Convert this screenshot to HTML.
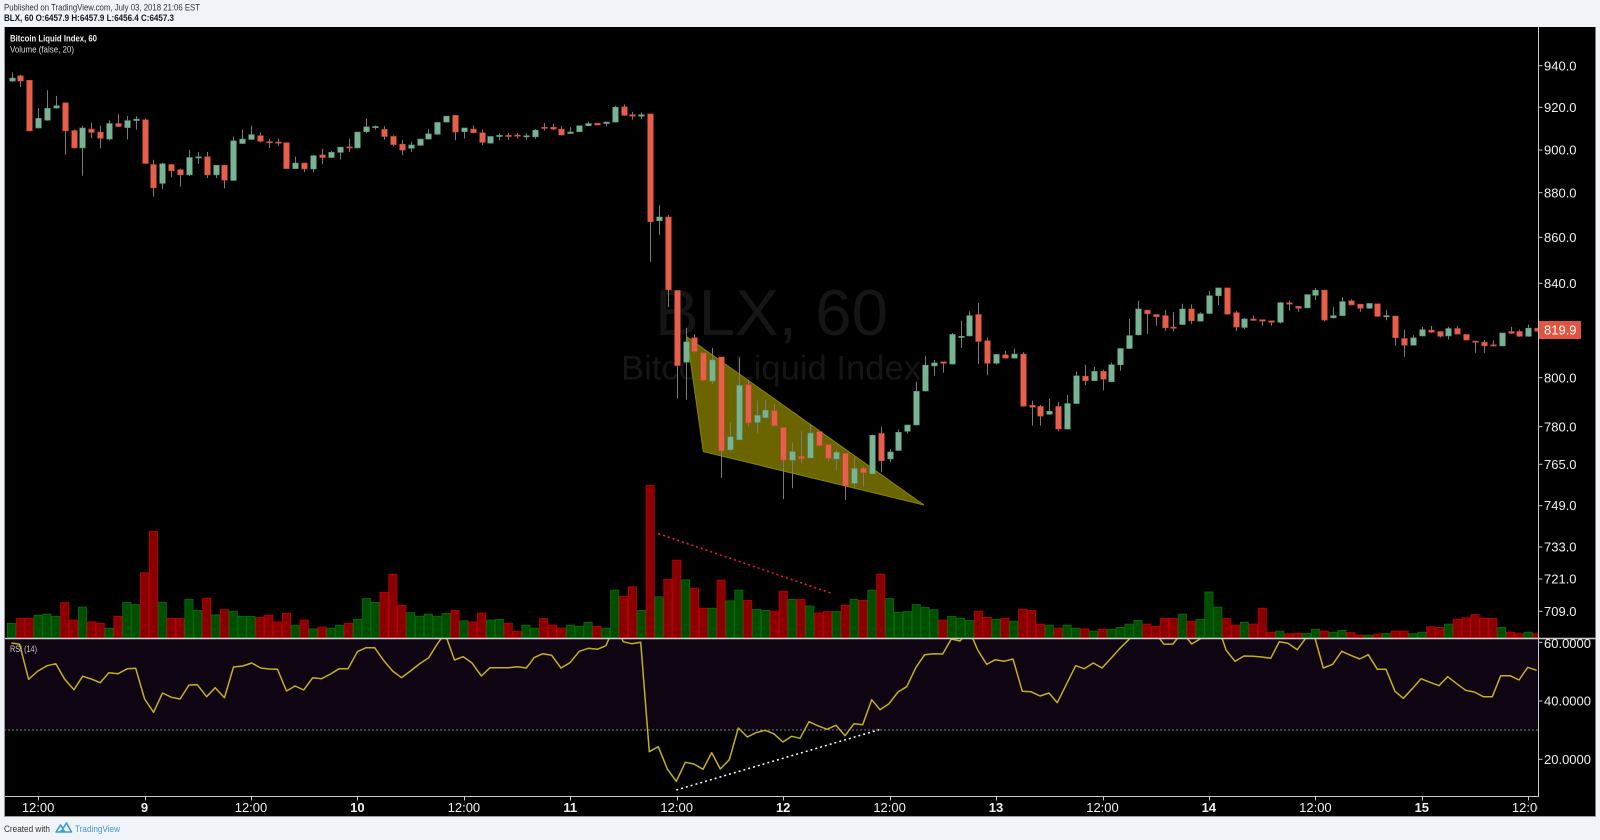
<!DOCTYPE html>
<html><head><meta charset="utf-8">
<style>html,body{margin:0;padding:0;background:#f0f3f7;}svg{display:block}</style>
</head><body>
<svg id="s" xmlns="http://www.w3.org/2000/svg" width="1600" height="840" viewBox="0 0 1600 840" font-family="Liberation Sans, Arial, sans-serif">
<defs>
<clipPath id="cp"><rect x="4" y="27" width="1534.5" height="611"/></clipPath>
<clipPath id="cr"><rect x="4" y="639" width="1534.5" height="157"/></clipPath>
<clipPath id="ct"><rect x="4" y="797" width="1534" height="20"/></clipPath>
</defs>
<rect width="1600" height="840" fill="#f0f3f7"/>
<text x="4" y="10.5" font-size="9" fill="#333" textLength="196" lengthAdjust="spacingAndGlyphs">Published on TradingView.com, July 03, 2018 21:06 EST</text>
<text x="4" y="21" font-size="9" font-weight="bold" fill="#131722" textLength="170" lengthAdjust="spacingAndGlyphs">BLX, 60 O:6457.9 H:6457.9 L:6456.4 C:6457.3</text>
<rect x="4" y="27" width="1591.5" height="789.5" fill="#000"/>
<g clip-path="url(#cp)">
  <text x="655" y="335" font-size="65" fill="#151515" textLength="233" lengthAdjust="spacingAndGlyphs">BLX, 60</text>
  <text x="621" y="379.5" font-size="34" fill="#151515" textLength="300" lengthAdjust="spacingAndGlyphs">Bitcoin Liquid Index</text>
  <g id="vol"></g>
  <polygon points="687,337 703.3,451.6 924,505" fill="#6a6500" stroke="#8a8400" stroke-width="1"/>
  <g id="cdl"></g>
  <line x1="658.3" y1="533.6" x2="833" y2="593.8" stroke="#ff1e1e" stroke-width="1.5" stroke-dasharray="2,3"/>
</g>
<text x="10" y="41.3" font-size="9" font-weight="bold" fill="#eeeeee" textLength="87" lengthAdjust="spacingAndGlyphs">Bitcoin Liquid Index, 60</text>
<text x="10" y="52.7" font-size="9" fill="#dddddd" textLength="64" lengthAdjust="spacingAndGlyphs">Volume (false, 20)</text>
<g clip-path="url(#cr)">
  <rect x="4" y="638" width="1534.5" height="92" fill="#0e0412"/>
  <line x1="4" y1="730" x2="1538.5" y2="730" stroke="#7d7d7d" stroke-width="1" stroke-dasharray="2,2"/>
  <polyline id="rsi" fill="none" stroke="#c4b01a" stroke-width="1.5" stroke-linejoin="round" points=""/>
  <line x1="676.3" y1="790" x2="879.3" y2="729.7" stroke="#ffffff" stroke-width="1.5" stroke-dasharray="2,3"/>
</g>
<text x="10" y="652" font-size="9" fill="#cccccc" textLength="27" lengthAdjust="spacingAndGlyphs">RSI (14)</text>
<!-- separators / axes -->
<line x1="4" y1="638.5" x2="1596" y2="638.5" stroke="#cfcfcf" stroke-width="1.5"/>
<line x1="1538.5" y1="27" x2="1538.5" y2="797" stroke="#c8c8c8" stroke-width="1"/>
<line x1="4" y1="796.5" x2="1538.5" y2="796.5" stroke="#c8c8c8" stroke-width="1"/>
<line x1="4.5" y1="27" x2="4.5" y2="816.5" stroke="#9a9a9a" stroke-width="1"/>
<line x1="4" y1="816.5" x2="1596" y2="816.5" stroke="#9a9a9a" stroke-width="1"/>
<g id="pticks" stroke="#c8c8c8" stroke-width="1"></g>
<g font-size="13" fill="#f0f0f0">
<text x="1544" y="70.3">940.0</text>
<text x="1544" y="111.9">920.0</text>
<text x="1544" y="154.6">900.0</text>
<text x="1544" y="197.5">880.0</text>
<text x="1544" y="241.9">860.0</text>
<text x="1544" y="287.9">840.0</text>
<text x="1544" y="382.3">800.0</text>
<text x="1544" y="431.3">780.0</text>
<text x="1544" y="468.9">765.0</text>
<text x="1544" y="510.1">749.0</text>
<text x="1544" y="551.6">733.0</text>
<text x="1544" y="583.6">721.0</text>
<text x="1544" y="615.9">709.0</text>
<text x="1544" y="648">60.0000</text>
<text x="1544" y="705.6">40.0000</text>
<text x="1544" y="763.9">20.0000</text>
</g>
<rect x="1539" y="321" width="42" height="18" fill="#e0553d"/>
<text x="1544" y="334.6" font-size="13" fill="#ffffff">819.9</text>
<g id="tticks" stroke="#c8c8c8" stroke-width="1"></g>
<g clip-path="url(#ct)" font-size="13" fill="#f0f0f0" text-anchor="middle">
<text x="38.1" y="812">12:00</text>
<text x="144.5" y="812" font-weight="bold">9</text>
<text x="251" y="812">12:00</text>
<text x="357.4" y="812" font-weight="bold">10</text>
<text x="463.9" y="812">12:00</text>
<text x="570.3" y="812" font-weight="bold">11</text>
<text x="676.7" y="812">12:00</text>
<text x="783.2" y="812" font-weight="bold">12</text>
<text x="889.6" y="812">12:00</text>
<text x="996" y="812" font-weight="bold">13</text>
<text x="1102.5" y="812">12:00</text>
<text x="1208.9" y="812" font-weight="bold">14</text>
<text x="1315.4" y="812">12:00</text>
<text x="1421.8" y="812" font-weight="bold">15</text>
<text x="1528.2" y="812">12:00</text>
</g>
<text x="4" y="832" font-size="9" fill="#333" textLength="46" lengthAdjust="spacingAndGlyphs">Created with</text>
<path d="M56 832 L60.5 825 L63 828.5 L66.5 823 L71.5 832 Z" fill="none" stroke="#3a9cdb" stroke-width="1.6" stroke-linejoin="round"/>
<path d="M58.5 832 L63 828.5 L66 832 Z" fill="#3a9cdb"/>
<text x="75" y="832" font-size="9" fill="#3a9cdb" textLength="45" lengthAdjust="spacingAndGlyphs">TradingView</text>
</svg>
<script>
(function(){
var NS="http://www.w3.org/2000/svg";
function el(p,t,a){var e=document.createElementNS(NS,t);for(var k in a)e.setAttribute(k,a[k]);p.appendChild(e);return e;}
var Y=function(p){return 60+p/2.707;};
var X=function(i){return 11.5+8.87*i;};
var C="g 49 57 33 58|r 43 57 40 72|r 55 192 55 192|g 158 184 130 184|g 131 163 82 163|g 124 130 97 130|r 116 192 116 255|r 191 238 188 238|g 184 238 178 312|r 187 196 170 210|r 195 212 178 238|g 172 214 163 216|r 172 180 146 180|g 164 183 152 214|g 160 164 152 187|r 162 280 158 280|r 283 346 270 368|g 281 334 278 348|r 283 300 282 316|r 297 311 294 341|g 264 311 243 313|g 262 265 249 280|r 262 311 249 318|g 285 311 285 318|r 285 325 285 346|g 219 326 207 326|g 214 226 188 226|g 202 215 178 215|r 205 220 196 222|r 221 224 213 237|r 222 225 212 231|r 224 294 224 294|g 279 294 262 294|r 279 295 278 302|g 259 295 257 302|r 257 264 241 281|g 250 264 246 264|g 236 250 236 268|r 235 237 213 248|g 195 238 195 238|g 181 194 158 197|g 180 183 177 187|r 188 207 179 215|r 207 229 204 232|r 228 244 216 256|g 230 239 221 248|g 214 231 214 231|g 200 214 187 214|g 169 201 169 201|g 152 168 152 168|r 150 195 150 216|g 184 194 184 211|r 187 197 177 197|r 197 223 188 229|g 207 225 207 225|g 204 207 199 216|r 204 207 197 215|r 203 206 198 211|g 205 208 199 215|g 190 208 187 212|r 182 185 171 190|r 182 187 173 188|r 187 203 179 203|g 195 199 182 199|g 178 194 178 194|g 172 178 167 178|r 171 176 171 176|g 168 172 168 178|g 128 168 124 168|r 127 150 120 150|r 148 152 140 160|g 148 152 142 158|r 146 438 146 545|g 425 435 393 472|r 425 622 420 668|r 624 827 624 915|g 763 818 725 918|r 752 789 742 790|r 793 867 793 867|g 812 869 779 875|r 804 1058 804 1130|g 1020 1055 982 1058|g 881 1028 806 1028|r 879 982 866 990|g 962 981 922 1008|g 948 968 920 968|r 949 990 930 990|r 995 1083 995 1187|g 1060 1083 1035 1158|r 1073 1079 1005 1090|g 1010 1077 985 1077|r 1006 1044 1006 1044|r 1041 1078 1041 1085|g 1062 1080 1055 1110|r 1065 1153 1065 1190|g 1106 1146 1075 1155|r 1105 1117 1100 1153|g 1016 1120 1014 1120|r 1011 1085 993 1115|g 1061 1080 1053 1087|g 1008 1057 1000 1057|g 988 1005 988 1010|g 897 988 871 988|g 826 896 801 896|g 820 828 812 853|r 817 821 817 845|g 743 823 739 823|g 748 751 706 778|g 692 747 680 747|r 689 762 658 822|r 760 821 752 852|g 797 821 797 823|r 798 807 787 807|g 796 807 781 807|r 796 937 791 937|r 935 940 922 988|r 938 964 934 988|g 951 959 916 959|r 938 999 926 1004|g 930 999 907 999|g 855 930 843 930|r 856 868 825 878|g 843 868 831 868|r 843 864 838 893|g 825 871 819 871|g 781 825 781 840|g 746 781 701 781|g 674 744 652 744|r 677 687 677 740|r 689 695 689 718|r 692 725 677 732|r 723 726 682 733|g 674 716 660 716|r 674 706 662 713|g 687 707 683 707|g 638 686 625 686|g 617 638 617 662|r 617 688 617 688|r 684 723 680 733|g 701 724 698 727|r 701 705 692 705|r 703 707 703 718|r 706 710 706 718|g 657 710 655 712|r 657 661 651 677|r 667 672 667 680|g 635 671 635 671|g 623 637 617 648|r 623 704 623 706|g 692 698 669 698|g 654 692 642 692|r 652 663 648 663|r 661 672 661 680|g 659 672 659 672|r 660 694 660 694|g 692 695 676 703|r 693 752 693 772|r 754 772 730 802|g 752 772 745 772|g 730 747 722 747|r 731 737 720 737|r 735 748 735 750|g 727 747 722 755|r 727 742 720 742|r 743 758 743 758|r 761 764 761 791|r 764 774 758 791|r 771 774 759 774|g 739 774 739 774|r 735 740 722 740|r 735 748 730 748|g 726 748 716 748|r 726 734 726 734";
var V=[1525,1512,1511,1503,1500,1506,1469,1516,1481,1521,1525,1538,1506,1468,1474,1388,1276,1468,1511,1512,1460,1490,1457,1502,1488,1492,1506,1506,1509,1503,1521,1498,1530,1516,1540,1535,1538,1530,1525,1514,1458,1468,1441,1392,1476,1496,1506,1500,1506,1498,1490,1518,1521,1497,1516,1514,1525,1547,1530,1538,1512,1530,1538,1530,1533,1522,1533,1538,1435,1452,1426,1490,1152,1453,1406,1354,1407,1430,1484,1484,1408,1464,1435,1463,1487,1490,1492,1438,1460,1460,1478,1497,1493,1493,1476,1460,1463,1435,1392,1458,1495,1493,1474,1482,1488,1516,1506,1511,1517,1492,1509,1514,1511,1519,1487,1490,1527,1530,1538,1530,1538,1540,1546,1541,1541,1536,1527,1517,1527,1533,1511,1512,1500,1519,1514,1440,1481,1512,1530,1522,1527,1484,1549,1546,1553,1552,1552,1541,1546,1549,1544,1550,1557,1557,1554,1552,1546,1546,1553,1549,1534,1536,1527,1514,1510,1501,1511,1512,1536,1549,1553,1549,1553];
var rows=C.split("|");
var cg=document.getElementById("cdl"), vg=document.getElementById("vol");
for(var i=0;i<rows.length;i++){
  var a=rows[i].split(" "), t=a[0], bt=+a[1], bb=+a[2], wt=+a[3], wb=+a[4];
  var x=X(i), g=(t==="g");
  var wx=Math.round(x)+0.5;
  el(cg,"line",{x1:wx,y1:Y(wt),x2:wx,y2:Y(wb)+0.5,stroke:"#7a7a7a","stroke-width":1});
  var y1=Y(bt), h=Math.max(1.2,Y(bb)-y1);
  el(cg,"rect",{x:wx-2.8,y:y1,width:5.6,height:h,fill:g?"#78b494":"#e65f4a",stroke:g?"#5a9678":"#c94a36","stroke-width":0.6});
  var vy=Y(V[i]);
  el(vg,"rect",{x:x-4.1,y:vy,width:8.2,height:637.5-vy,fill:g?"#004f00":"#8a0000",stroke:g?"#0b6b0b":"#c00000","stroke-width":0.8});
}
var pts=[];
var z10=[[33,54],[57,58],[83,163],[110,138],[137,122],[162,116],[188,163],[215,194],[240,154],[265,162],[291,173],[316,143],[343,146],[370,131],[394,130],[420,222],[446,262],[472,204],[498,217],[523,222],[549,180],[573,179],[600,215],[625,188],[652,218],[678,126],[705,123],[731,114],[757,129],[782,132],[806,133],[832,198],[857,183],[882,195],[908,158],[934,161],[960,147],[985,131],[1011,131],[1038,80],[1063,68],[1088,68],[1113,105],[1140,138],[1166,158],[1192,138],[1218,117],[1245,98],[1270,57],[1285,35],[1298,42],[1320,105],[1345,95],[1370,113],[1398,153],[1423,128],[1450,128],[1476,128],[1503,125],[1528,129]];
z10.forEach(function(p){pts.push([p[0]/2.904,625+p[1]/3]);});
var z11=[[0,115],[12,98],[38,86],[65,91],[93,129],[120,113],[148,79],[175,70],[202,73],[228,62],[242,28],[262,28],[275,40],[280,50],[305,56],[332,52],[358,380],[385,365],[412,432],[439,469],[466,412],[492,417],[519,433],[545,383],[571,432],[598,404],[625,309],[652,336],[678,323],[705,316],[731,326],[759,351],[785,334],[810,340],[837,290],[863,302],[891,313],[918,301],[945,332],[972,296],[998,299],[1025,224],[1050,254],[1077,236],[1104,201],[1130,185],[1158,127],[1184,89],[1211,86],[1238,87],[1264,42],[1290,48],[1300,36],[1314,28],[1328,40],[1343,75],[1370,118],[1396,104],[1422,109],[1449,102],[1477,199],[1503,200],[1530,213]];
z11.forEach(function(p){pts.push([530+p[0]/3,625+p[1]/3]);});
var z12=[[27,204],[52,233],[80,176],[107,122],[133,131],[160,114],[186,129],[213,100],[240,70],[266,44],[285,20],[340,20],[360,42],[372,58],[399,57],[420,30],[440,38],[455,57],[480,42],[500,20],[535,20],[548,45],[558,75],[585,109],[612,93],[640,94],[665,96],[692,100],[718,50],[744,55],[772,74],[797,40],[810,25],[825,40],[850,129],[878,118],[905,79],[932,91],[959,102],[985,89],[1012,133],[1038,133],[1065,199],[1090,220],[1117,191],[1143,161],[1170,172],[1197,182],[1223,155],[1250,176],[1277,196],[1303,201],[1330,215],[1357,215],[1382,152],[1410,152],[1437,165],[1463,127],[1490,136]];
z12.forEach(function(p){pts.push([1040+p[0]/3,625+p[1]/3]);});
document.getElementById("rsi").setAttribute("points",pts.map(function(p){return p[0].toFixed(1)+","+p[1].toFixed(1);}).join(" "));
var pt=document.getElementById("pticks");
[65.7,107.3,150,192.7,237.3,283.3,377.7,426.7,464.3,505.7,547,579,611.3,642.3,701,759.3].forEach(function(y){el(pt,"line",{x1:1538.5,y1:y,x2:1542.5,y2:y});});
var tt=document.getElementById("tticks");
for(var k=0;k<15;k++){var tx=Math.round(38.1+k*106.44)+0.5;el(tt,"line",{x1:tx,y1:796.5,x2:tx,y2:800.5});}
})();
</script>
</body></html>
